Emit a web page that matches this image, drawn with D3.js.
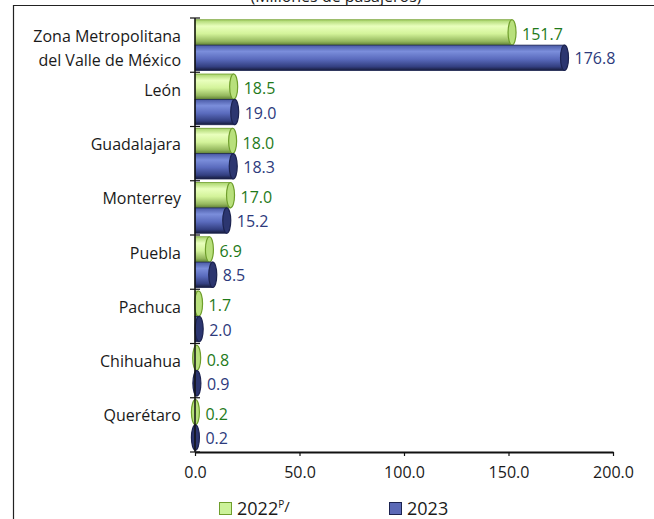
<!doctype html>
<html>
  <head>
    <meta charset="utf-8">
    <title>Pasajeros por zona</title>
    <script src="https://cdnjs.cloudflare.com/ajax/libs/d3/7.8.5/d3.min.js"></script>
    <style>
      body { margin: 0; background: #fff; }
      svg text { font-family: "Open Sans", sans-serif; }
    </style>
  </head>
  <body>
    <div id="chart"></div>
    <script>
      // data
      const categories = ["Zona Metropolitana\ndel Valle de México", "León", "Guadalajara", "Monterrey",
                          "Puebla", "Pachuca", "Chihuahua", "Querétaro"];
      const values2022 = [151.7, 18.5, 18.0, 17.0, 6.9, 1.7, 0.8, 0.2];
      const values2023 = [176.8, 19.0, 18.3, 15.2, 8.5, 2.0, 0.9, 0.2];
      const seriesNames = ["2022", "2023"];
      const xTicks = [0, 50, 100, 150, 200];

      const W = 654, H = 519;
      const svg = d3.select("#chart").append("svg")
        .attr("width", W).attr("height", H);

      // gradients for the cylinder look
      const defs = svg.append("defs");
      const grads = {
        "2022": [["0%", "#a9d46c"], ["25%", "#e9ffbd"], ["55%", "#d3f39a"], ["85%", "#95b85e"], ["100%", "#5f7f34"]],
        "2023": [["0%", "#4a5aa6"], ["25%", "#7b8edb"], ["55%", "#5a6bbd"], ["85%", "#333f80"], ["100%", "#161b3a"]]
      };
      Object.entries(grads).forEach(([k, stops]) => {
        const g = defs.append("linearGradient").attr("id", "g" + k)
          .attr("x1", 0).attr("y1", 0).attr("x2", 0).attr("y2", 1);
        stops.forEach(s => g.append("stop").attr("offset", s[0]).attr("stop-color", s[1]));
      });
      const capFill = { "2022": "#b8e07c", "2023": "#2c3670" };
      const strokeCol = { "2022": "#6f9e2c", "2023": "#1c2350" };
      const labelCol = { "2022": "#1f7a1a", "2023": "#2d3a7c" };

      // frame (cropped box)
      svg.append("line").attr("x1", 13).attr("x2", W).attr("y1", 5.5).attr("y2", 5.5)
        .attr("stroke", "#222").attr("stroke-width", 1.2);
      svg.append("line").attr("x1", 13.5).attr("x2", 13.5).attr("y1", 5).attr("y2", H)
        .attr("stroke", "#222").attr("stroke-width", 1.2);

      // title, mostly cut off by the top edge as in the source
      svg.append("text").attr("x", 336).attr("y", 2)
        .attr("text-anchor", "middle").attr("font-size", 16).attr("fill", "#222")
        .text("(Millones de pasajeros)");

      const x = d3.scaleLinear().domain([0, 200]).range([195, 613]);
      const y = d3.scaleBand().domain(categories).range([18, 452]).padding(0);
      const ySub = d3.scaleBand().domain(seriesNames).range([0, y.bandwidth()]).paddingOuter(0.07).paddingInner(0);

      const rows = categories.map((c, i) => ({ cat: c, v: { "2022": values2022[i], "2023": values2023[i] } }));

      const groups = svg.selectAll("g.row").data(rows).join("g")
        .attr("class", "row")
        .attr("transform", d => `translate(0,${y(d.cat)})`);

      const rx = 4;
      seriesNames.forEach(s => {
        const bh = ySub.bandwidth();
        const g = groups.append("g");
        // body
        g.append("rect")
          .attr("x", x(0))
          .attr("y", ySub(s))
          .attr("width", d => Math.max(0, x(d.v[s]) - x(0)))
          .attr("height", bh)
          .attr("fill", `url(#g${s})`)
          .attr("stroke", strokeCol[s]).attr("stroke-width", 0.8);
        // end cap
        g.append("ellipse")
          .attr("cx", d => x(d.v[s]))
          .attr("cy", ySub(s) + bh / 2)
          .attr("rx", rx).attr("ry", bh / 2)
          .attr("fill", capFill[s])
          .attr("stroke", strokeCol[s]).attr("stroke-width", 1.2);
        // value label
        g.append("text")
          .attr("x", d => x(d.v[s]) + rx + 6)
          .attr("y", ySub(s) + bh / 2 + (s === "2022" ? 2 : 1))
          .attr("dy", "0.35em")
          .attr("font-size", 16)
          .attr("fill", labelCol[s])
          .text(d => d3.format(".1f")(d.v[s]));
      });

      // category labels (sit a little above the band centre)
      groups.append("text")
        .attr("x", 181)
        .attr("text-anchor", "end")
        .attr("font-size", 16)
        .attr("fill", "#1a1a1a")
        .each(function (d) {
          const lines = d.cat.split("\n");
          const t = d3.select(this);
          const c = y.bandwidth() / 2 - 9;
          lines.forEach((l, i) => {
            t.append("tspan").attr("x", 181)
              .attr("y", c + i * 24)
              .attr("dy", "0.35em").text(l);
          });
        });

      // y axis line with crossing ticks at band edges
      const yAxis = svg.append("g");
      yAxis.append("line").attr("x1", x(0)).attr("x2", x(0)).attr("y1", 18).attr("y2", 452)
        .attr("stroke", "#111").attr("stroke-width", 1.5);
      yAxis.selectAll("line.t").data(categories.map(c => y(c)).concat([452])).join("line")
        .attr("class", "t")
        .attr("x1", x(0) - 5).attr("x2", x(0) + 5)
        .attr("y1", d => d).attr("y2", d => d)
        .attr("stroke", "#111").attr("stroke-width", 1.2);

      // x axis
      const xAxis = svg.append("g").attr("transform", "translate(0,452)")
        .call(d3.axisBottom(x).tickValues(xTicks).tickFormat(d3.format(".1f")).tickSize(4).tickSizeOuter(0));
      xAxis.select(".domain").attr("stroke", "#111").attr("stroke-width", 2);
      xAxis.selectAll(".tick line").attr("stroke", "#111").attr("stroke-width", 1.2);
      xAxis.selectAll(".tick text").attr("font-size", 16).attr("fill", "#1a1a1a")
        .attr("font-family", "'Open Sans', sans-serif").attr("y", 15);

      // legend
      const legend = svg.append("g").attr("transform", "translate(0,509)");
      const legendItems = [
        { key: "2022", x: 219, label: "2022", sup: "P" },
        { key: "2023", x: 389, label: "2023", sup: "" }
      ];
      legendItems.forEach(it => {
        legend.append("rect").attr("x", it.x + 0.5).attr("y", -6.5).attr("width", 12).attr("height", 12)
          .attr("fill", it.key === "2022" ? "#ccf29a" : "#5b69b6")
          .attr("stroke", strokeCol[it.key]).attr("stroke-width", 1);
        const t = legend.append("text").attr("x", it.x + 18).attr("y", 0).attr("dy", "0.35em")
          .attr("font-size", 18).attr("fill", "#1a1a1a").text(it.label);
        if (it.sup) {
          t.append("tspan").attr("font-size", 10).attr("dy", "-0.75em").text(it.sup);
          t.append("tspan").attr("font-size", 15).attr("dy", "0.3em").text("/");
        }
      });
    </script>
  </body>
</html>
